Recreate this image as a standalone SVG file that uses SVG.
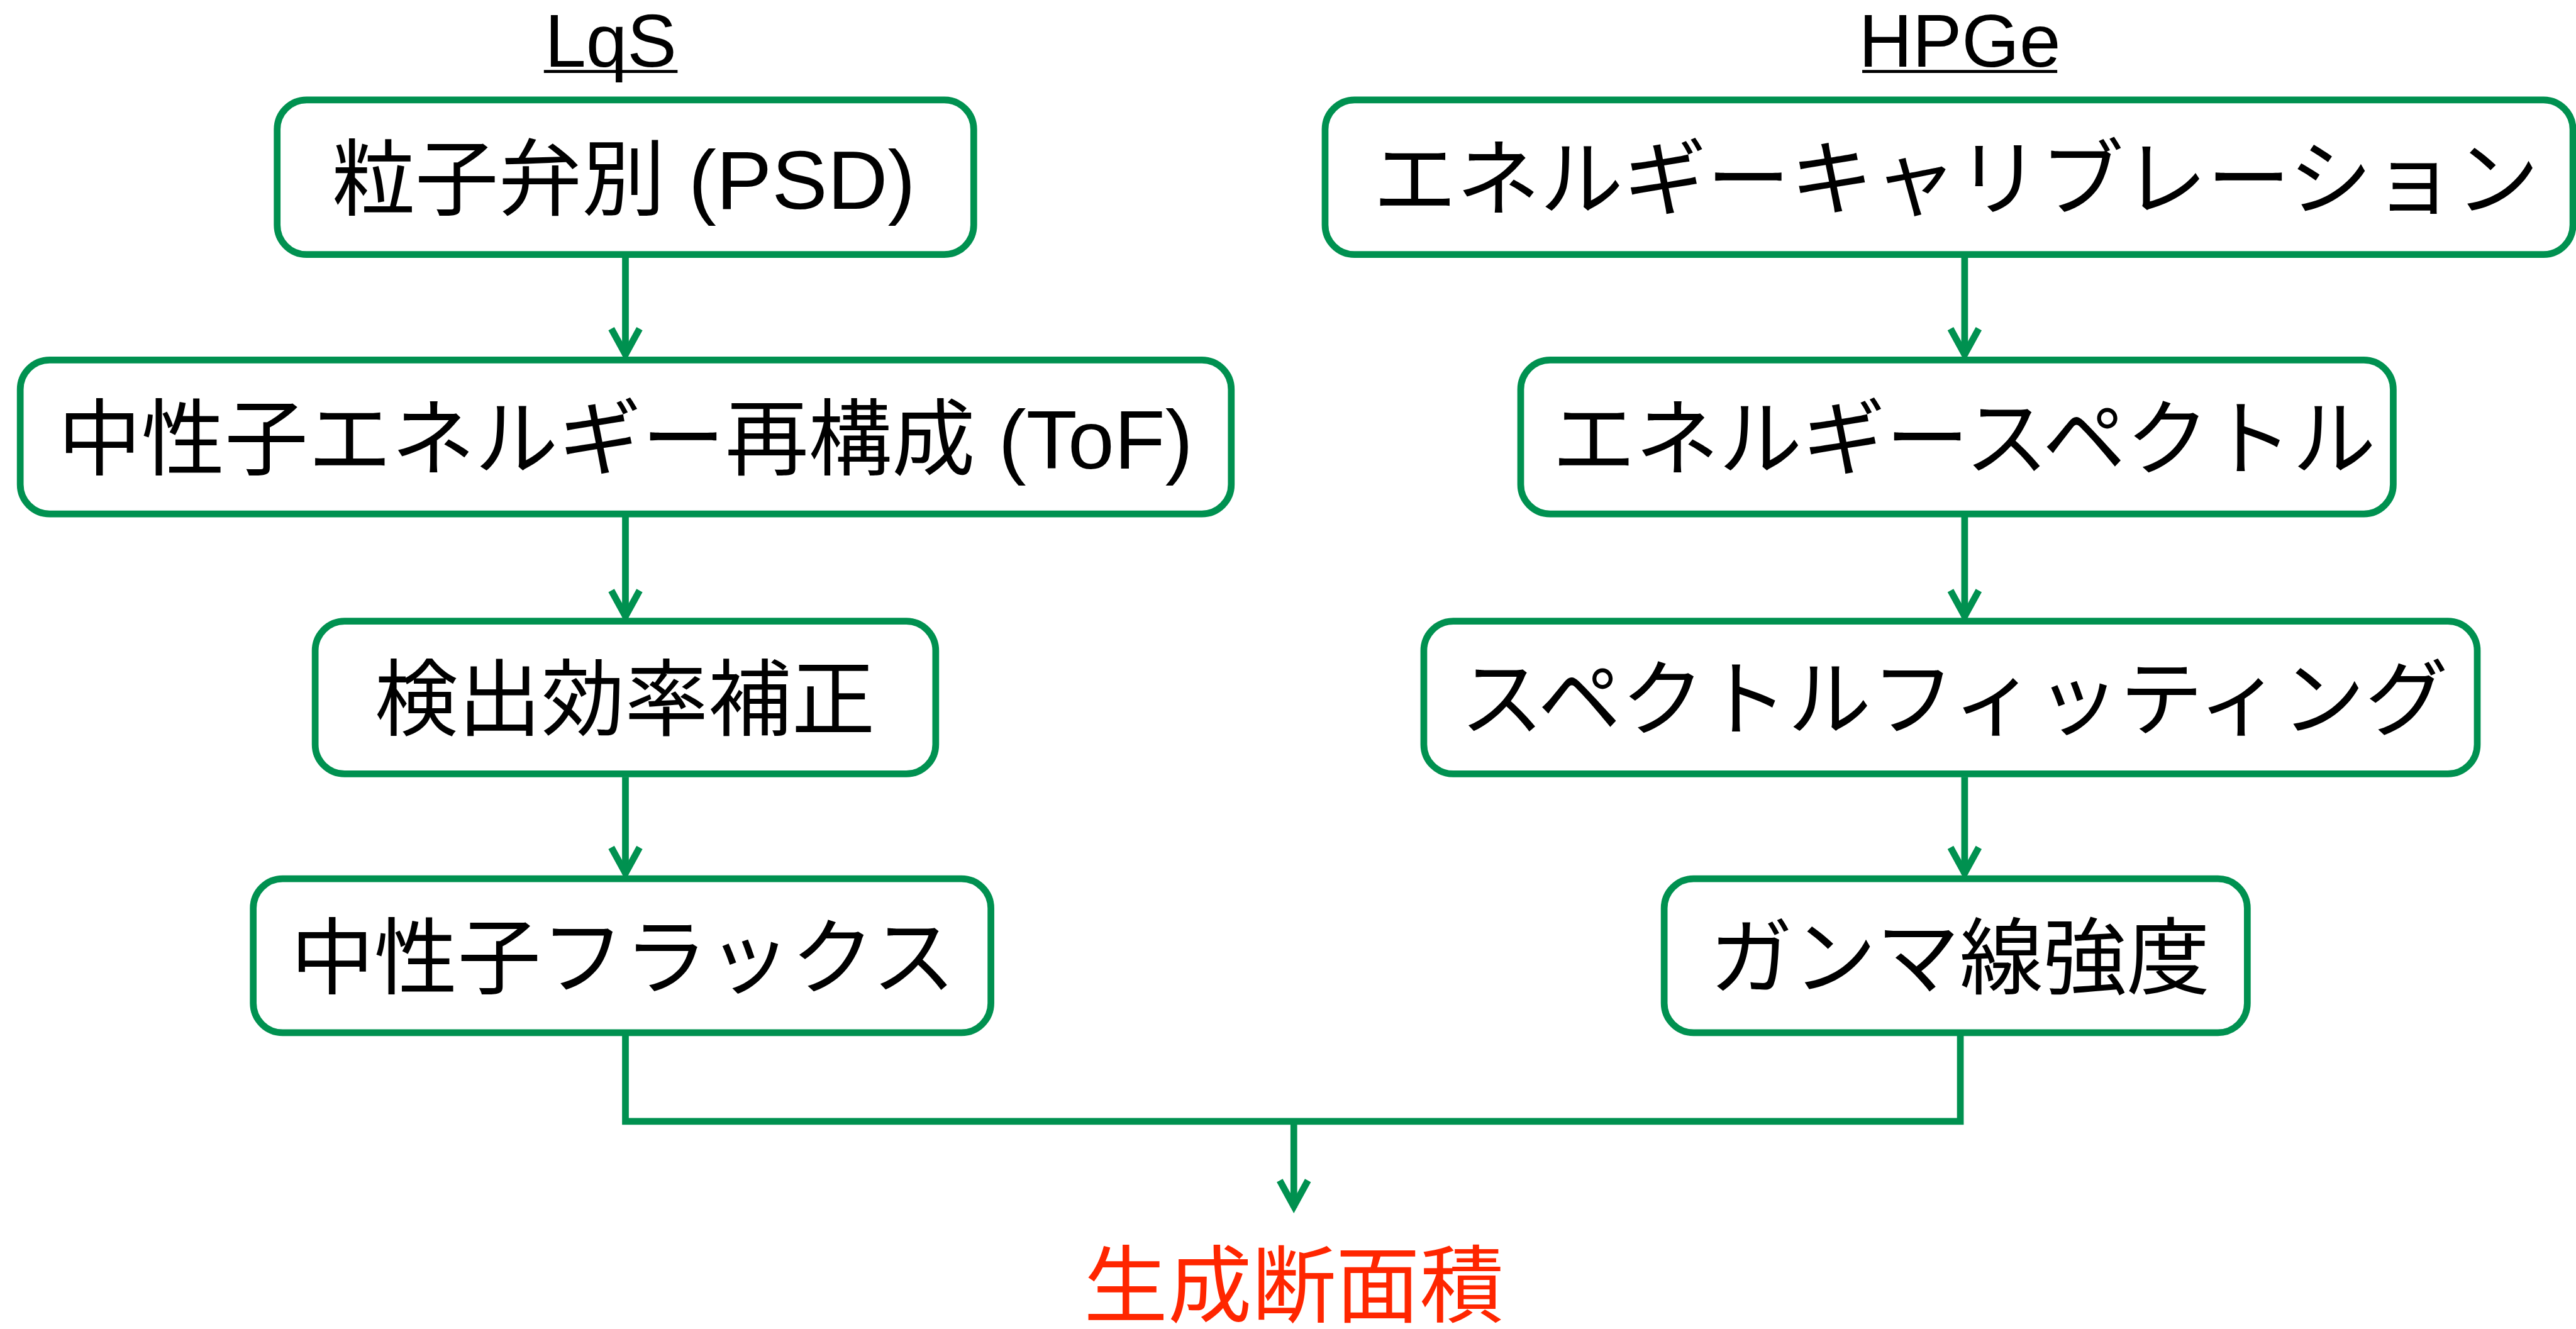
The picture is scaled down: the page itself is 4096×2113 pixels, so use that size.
<svg xmlns="http://www.w3.org/2000/svg" width="4096" height="2113" viewBox="0 0 4096 2113">
<defs>
<style>
.box{fill:#ffffff;stroke:#009150;stroke-width:11}
.lbl{font-family:"Liberation Sans","Noto Sans CJK JP",sans-serif;font-size:136px;fill:#000000;text-anchor:middle}
.title{font-family:"Liberation Sans","Noto Sans CJK JP",sans-serif;font-size:121px;fill:#000000;text-anchor:middle}
.ul{stroke:#000000;stroke-width:5}
.conn{fill:none;stroke:#009150;stroke-width:11}
.res{font-family:"Liberation Sans","Noto Sans CJK JP",sans-serif;font-size:137px;fill:#FF2600;text-anchor:middle}
</style>
<marker id="arr" markerUnits="userSpaceOnUse" orient="auto" refX="0" refY="0" markerWidth="120" markerHeight="120" viewBox="-60 -60 120 120" overflow="visible">
<path d="M -44 -23 L -2 0 L -44 23" fill="none" stroke="#009150" stroke-width="11" stroke-linejoin="miter"/>
</marker>
</defs>
<rect width="4096" height="2113" fill="#ffffff"/>
<g transform="scale(0.975)">
<g id="title-lqs">
<text class="title" x="996" y="109">LqS</text>
<line class="ul" x1="887" y1="116.5" x2="1105" y2="116.5"/>
</g>
<g id="title-hpge">
<text class="title" x="3196" y="109">HPGe</text>
<line class="ul" x1="3037" y1="116.5" x2="3355" y2="116.5"/>
</g>

<g id="connectors">
<path class="conn" d="M1020 420 V580" marker-end="url(#arr)"/>
<path class="conn" d="M1020 843 V1007" marker-end="url(#arr)"/>
<path class="conn" d="M1020 1267 V1426" marker-end="url(#arr)"/>
<path class="conn" d="M3204 420 V580" marker-end="url(#arr)"/>
<path class="conn" d="M3204 843 V1007" marker-end="url(#arr)"/>
<path class="conn" d="M3204 1267 V1426" marker-end="url(#arr)"/>
<path class="conn" d="M1020 1689 V1828.5 H3197 V1689"/>
<path class="conn" d="M2110 1828.5 V1969" marker-end="url(#arr)"/>
</g>

<g id="n-psd">
<rect class="box" x="452" y="163" width="1136" height="252" rx="48" ry="48"/>
<text class="lbl" x="1017" y="341">粒子弁別 (PSD)</text>
</g>
<g id="n-tof">
<rect class="box" x="33" y="587" width="1975" height="251" rx="48" ry="48"/>
<text class="lbl" x="1020" y="764">中性子エネルギー再構成 (ToF)</text>
</g>
<g id="n-eff">
<rect class="box" x="514" y="1013" width="1012" height="249" rx="48" ry="48"/>
<text class="lbl" x="1019" y="1189">検出効率補正</text>
</g>
<g id="n-flux">
<rect class="box" x="413" y="1433" width="1203" height="251" rx="48" ry="48"/>
<text class="lbl" x="1016" y="1610">中性子フラックス</text>
</g>

<g id="n-cal">
<rect class="box" x="2161" y="163" width="2035" height="252" rx="48" ry="48"/>
<text class="lbl" x="3190" y="341">エネルギーキャリブレーション</text>
</g>
<g id="n-spec">
<rect class="box" x="2480" y="587" width="1423" height="251" rx="48" ry="48"/>
<text class="lbl" x="3203" y="764">エネルギースペクトル</text>
</g>
<g id="n-fit">
<rect class="box" x="2322" y="1013" width="1718" height="249" rx="48" ry="48"/>
<text class="lbl" x="3187" y="1189">スペクトルフィッティング</text>
</g>
<g id="n-gamma">
<rect class="box" x="2714" y="1433" width="951" height="251" rx="48" ry="48"/>
<text class="lbl" x="3196" y="1610">ガンマ線強度</text>
</g>

<g id="n-result">
<text class="res" x="2110" y="2146">生成断面積</text>
</g>
</g>
</svg>
